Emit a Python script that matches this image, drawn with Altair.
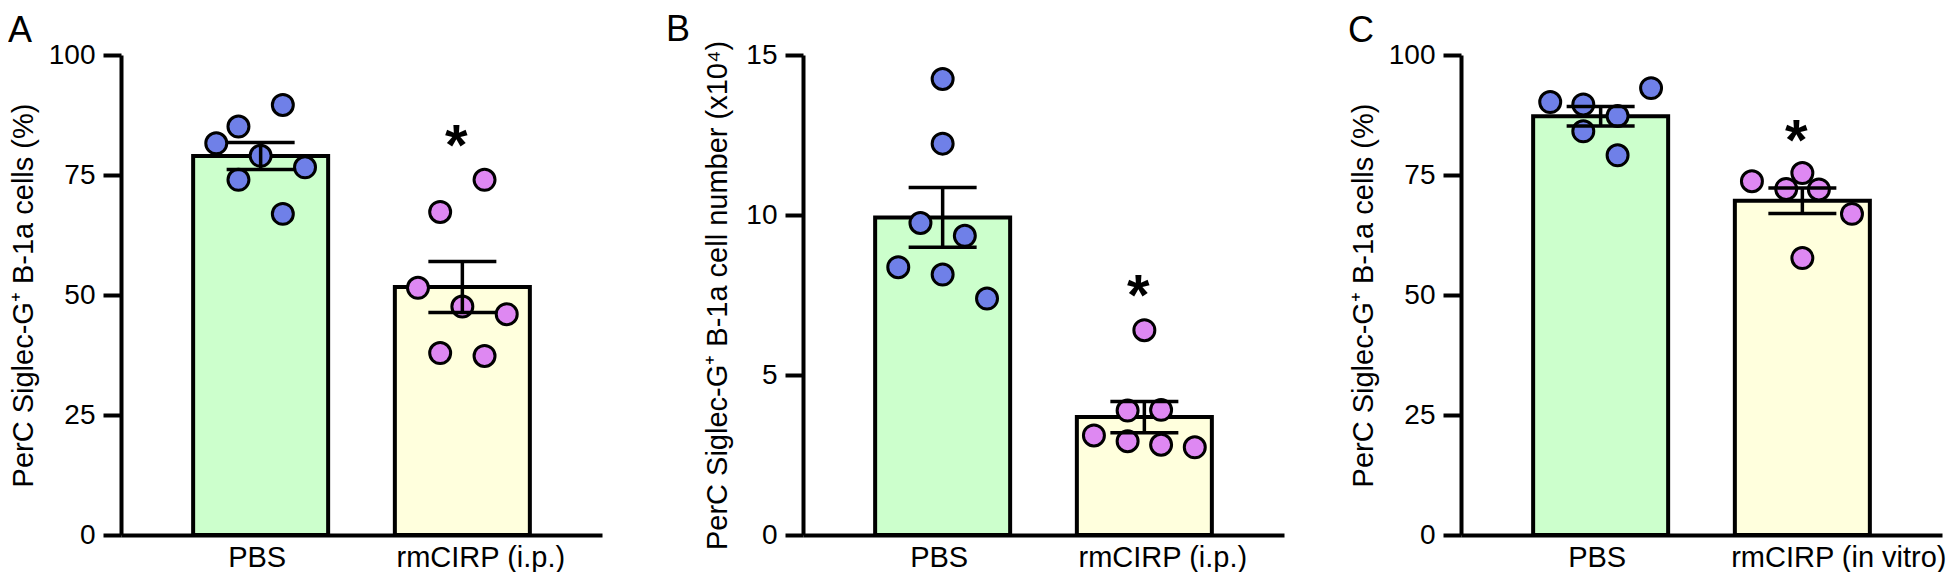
import altair as alt
import pandas as pd

FONT = "Liberation Sans"

# ---------------- data ----------------
groups = ["PBS", "rmCIRP"]
group_pos = [1, 2]

# Panel A: % Siglec-G+ B-1a cells (i.p.)
a_pbs = [89.6, 85.1, 81.6, 79.0, 76.6, 74.0, 66.9]
a_pbs_jit = [0.11, -0.11, -0.22, 0.0, 0.22, -0.11, 0.11]
a_cirp = [74.0, 67.3, 51.5, 47.6, 46.0, 37.9, 37.3]
a_cirp_jit = [0.11, -0.11, -0.22, 0.0, 0.22, -0.11, 0.11]
a_star = 82.1

# Panel B: cell number (x10^4)
b_pbs = [14.25, 12.23, 9.75, 9.35, 8.37, 8.14, 7.39]
b_pbs_jit = [0.0, 0.0, -0.11, 0.11, -0.22, 0.0, 0.22]
b_cirp = [6.40, 3.89, 3.91, 3.11, 2.93, 2.82, 2.74]
b_cirp_jit = [0.0, -0.083, 0.083, -0.25, -0.083, 0.083, 0.25]
b_star = 7.64

# Panel C: % Siglec-G+ B-1a cells (in vitro)
c_pbs = [93.1, 90.2, 89.7, 87.3, 84.1, 79.1]
c_pbs_jit = [0.25, -0.25, -0.086, 0.084, -0.086, 0.084]
c_cirp = [75.4, 73.7, 72.1, 72.0, 66.9, 57.7]
c_cirp_jit = [0.0, -0.25, -0.08, 0.082, 0.246, 0.0]
c_star = 83.1

ticks_pct = [0, 25, 50, 75, 100]
ticks_num = [0, 5, 10, 15]

bar_colors = ["#ccffcc", "#ffffdd"]
dot_colors = ["#6f80e8", "#de88f2"]

W, H = 481, 480
X_DOMAIN = [0.3325, 2.6675]


def panel(letter, pbs, pbs_jit, cirp, cirp_jit, ymax, yvals, ytitle, label2,
          star_y, title_x, letter_dx, label2_off):
    rows = []
    for v, j in zip(pbs, pbs_jit):
        rows.append({"pos": group_pos[0], "group": groups[0], "value": v, "xp": group_pos[0] + j})
    for v, j in zip(cirp, cirp_jit):
        rows.append({"pos": group_pos[1], "group": groups[1], "value": v, "xp": group_pos[1] + j})
    df = pd.DataFrame(rows)

    xs = alt.Scale(domain=X_DOMAIN, nice=False, zero=False)
    ys = alt.Scale(domain=[0, ymax], nice=False)

    xaxis = alt.Axis(
        values=group_pos,
        labelExpr="datum.value == 1 ? 'PBS' : '" + label2 + "'",
        ticks=False, tickSize=0, grid=False, title=None,
        domainColor="black", domainWidth=4,
        labelFont=FONT, labelFontSize=29, labelColor="black", labelLimit=0,
        labelBaseline="alphabetic", labelPadding=31, labelAngle=0,
        labelFlush=False, labelOverlap=False,
        labelOffset={"condition": {"test": "datum.value == 1", "value": -4}, "value": label2_off},
    )
    yaxis = alt.Axis(
        values=yvals, grid=False, title=ytitle,
        titleFont=FONT, titleFontSize=29, titleFontWeight="normal", titleColor="black",
        titleX=title_x, titleY=H / 2, titleAngle=270, titleBaseline="middle", titleAlign="center",
        labelFont=FONT, labelFontSize=28, labelColor="black", labelPadding=8,
        tickSize=18, tickWidth=4, tickColor="black",
        domainColor="black", domainWidth=4, labelFlush=False, labelOverlap=False,
    )

    base = alt.Chart(df)
    bars = base.mark_bar(size=135, stroke="black", strokeWidth=4).encode(
        x=alt.X("pos:Q", scale=xs, axis=xaxis),
        y=alt.Y("mean(value):Q", scale=ys, axis=yaxis),
        fill=alt.Fill("group:N", scale=alt.Scale(domain=groups, range=bar_colors), legend=None),
    )
    dots = base.mark_circle(size=440, stroke="black", strokeWidth=3, opacity=1).encode(
        x=alt.X("xp:Q", scale=xs, axis=xaxis),
        y=alt.Y("value:Q", scale=ys, axis=yaxis),
        fill=alt.Fill("group:N", scale=alt.Scale(domain=groups, range=dot_colors), legend=None),
    )
    err = base.transform_aggregate(
        m="mean(value)", se="stderr(value)", groupby=["pos"]
    ).transform_calculate(lo="datum.m - datum.se", hi="datum.m + datum.se")
    rule = err.mark_rule(color="black", strokeWidth=3.5).encode(
        x=alt.X("pos:Q", scale=xs, axis=xaxis),
        y=alt.Y("lo:Q", scale=ys, axis=yaxis),
        y2="hi:Q",
    )
    caps = err.transform_fold(["lo", "hi"], as_=["k", "v"]).mark_tick(
        orient="horizontal", size=68, thickness=3.5, color="black", opacity=1
    ).encode(
        x=alt.X("pos:Q", scale=xs, axis=xaxis),
        y=alt.Y("v:Q", scale=ys, axis=yaxis),
    )
    star_df = pd.DataFrame({"pos": [group_pos[1] - 0.03], "y": [star_y]})
    star = alt.Chart(star_df).mark_text(
        text="*", font=FONT, fontSize=58, fontWeight="bold", color="black",
        baseline="alphabetic", dy=24,
    ).encode(
        x=alt.X("pos:Q", scale=xs, axis=xaxis),
        y=alt.Y("y:Q", scale=ys, axis=yaxis),
    )
    return alt.layer(bars, dots, rule, caps, star).resolve_scale(fill="independent").properties(
        width=W, height=H,
        title=alt.TitleParams(
            text=letter, anchor="start", frame="group", dx=letter_dx, offset=-9,
            font=FONT, fontSize=36, fontWeight="normal", color="black",
        ),
    )


pA = panel("A", a_pbs, a_pbs_jit, a_cirp, a_cirp_jit, 100, ticks_pct,
           "PerC Siglec-G⁺ B-1a cells (%)", "rmCIRP (i.p.)", a_star, -98, -113, 18)
pB = panel("B", b_pbs, b_pbs_jit, b_cirp, b_cirp_jit, 15, ticks_num,
           "PerC Siglec-G⁺ B-1a cell number (x10⁴)", "rmCIRP (i.p.)", b_star, -86, -137, 18)
pC = panel("C", c_pbs, c_pbs_jit, c_cirp, c_cirp_jit, 100, ticks_pct,
           "PerC Siglec-G⁺ B-1a cells (%)", "rmCIRP (in vitro)", c_star, -98, -113, 36)

chart = alt.hconcat(pA, pB, pC, spacing=64).properties(
    padding={"top": 4, "left": 0, "right": 0, "bottom": 0}
).configure_view(stroke=None)

chart.save("out.html", embed_options={"renderer": "svg", "actions": False})
